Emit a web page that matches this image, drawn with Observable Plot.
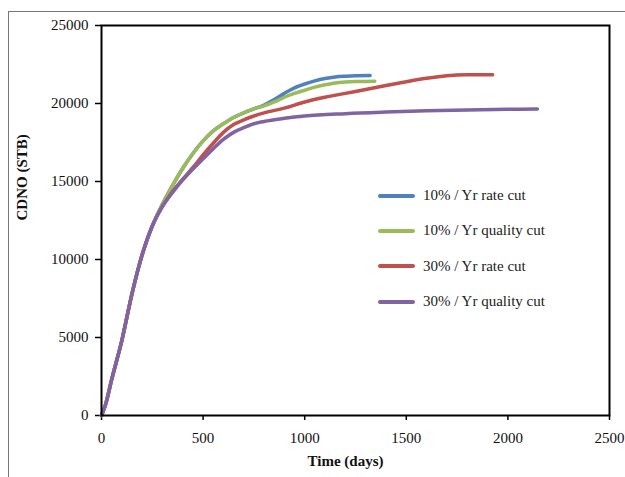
<!DOCTYPE html>
<html>
<head>
<meta charset="utf-8">
<script src="https://cdn.jsdelivr.net/npm/d3@7"></script>
<script src="https://cdn.jsdelivr.net/npm/@observablehq/plot@0.6"></script>
<style>
  body { margin:0; background:#fff; }
  #wrap { position:relative; width:625px; height:477px; overflow:hidden; font-family:"Liberation Serif", "Times New Roman", serif; }
  #border { position:absolute; left:8px; top:11px; width:700px; height:600px; border-left:1.5px solid #777; border-top:1.5px solid #777; }
  #chart { position:absolute; left:0; top:0; }
  #legend { position:absolute; left:378px; top:178px; font-size:15px; color:#222; }
  #legend .row { display:flex; align-items:center; height:35.3px; }
  #legend .sw { width:37px; height:4px; border-radius:2px; margin-right:8px; }
</style>
</head>
<body>
<div id="wrap"><div id="border"></div><div id="chart"></div><div id="legend"></div></div>
<script>
const seriesNames = ["10% / Yr rate cut", "10% / Yr quality cut", "30% / Yr rate cut", "30% / Yr quality cut"];
const seriesColors = ["#4F81BD", "#9BBB59", "#C0504D", "#8064A2"];
const xTicks = [0, 500, 1000, 1500, 2000, 2500];
const yTicks = [0, 5000, 10000, 15000, 20000, 25000];

const earlyT = [0, 20, 50, 100, 150, 200, 250];
const earlyV = [0, 700, 2300, 4800, 7800, 10300, 12150];

const blueT = [300, 350, 400, 450, 500, 550, 600, 650, 700, 750, 800, 850, 900, 950, 1000, 1050, 1100, 1150, 1200, 1250, 1322];
const blueV = [13550, 14750, 15850, 16800, 17600, 18250, 18700, 19100, 19400, 19650, 19900, 20250, 20650, 21000, 21250, 21450, 21600, 21700, 21750, 21780, 21790];
const greenT = [300, 350, 400, 450, 500, 550, 600, 650, 700, 750, 800, 850, 900, 950, 1000, 1050, 1100, 1150, 1200, 1250, 1345];
const greenV = [13550, 14750, 15850, 16800, 17600, 18250, 18700, 19100, 19400, 19650, 19850, 20100, 20400, 20650, 20850, 21050, 21200, 21320, 21380, 21410, 21420];
const redT = [300, 350, 400, 450, 500, 550, 600, 650, 700, 750, 800, 900, 1000, 1100, 1200, 1300, 1400, 1500, 1600, 1700, 1800, 1925];
const redV = [13400, 14350, 15150, 15900, 16700, 17450, 18150, 18650, 18950, 19200, 19400, 19700, 20100, 20400, 20650, 20900, 21150, 21400, 21620, 21780, 21840, 21850];
const purpleT = [300, 350, 400, 450, 500, 550, 600, 650, 700, 750, 800, 900, 1000, 1200, 1400, 1600, 1800, 2000, 2145];
const purpleV = [13400, 14300, 15100, 15800, 16450, 17100, 17700, 18150, 18450, 18700, 18850, 19050, 19200, 19350, 19450, 19530, 19590, 19630, 19640];

const tails = [[blueT, blueV], [greenT, greenV], [redT, redV], [purpleT, purpleV]];
const rows = [];
tails.forEach(([T, V], i) => {
  earlyT.forEach((t, j) => rows.push({series: seriesNames[i], t, v: earlyV[j]}));
  T.forEach((t, j) => rows.push({series: seriesNames[i], t, v: V[j]}));
});

const chart = Plot.plot({
  width: 625,
  height: 477,
  marginLeft: 101,
  marginRight: 16,
  marginTop: 25,
  marginBottom: 62,
  style: {fontFamily: '"Liberation Serif", "Times New Roman", serif', fontSize: "15px", color: "#111", background: "transparent"},
  x: {domain: [0, 2500]},
  y: {domain: [0, 25000]},
  color: {domain: seriesNames, range: seriesColors},
  marks: [
    Plot.axisX({ticks: xTicks, tickFormat: "d", tickSize: 5, tickPadding: 12, label: null, stroke: "#000", strokeWidth: 1.5}),
    Plot.axisY({ticks: yTicks, tickFormat: "d", tickSize: 6, tickPadding: 7, label: null, stroke: "#000", strokeWidth: 1.5}),
    Plot.line(rows, {x: "t", y: "v", z: "series", stroke: "series", strokeWidth: 3.5, curve: "monotone-x"}),
    Plot.frame({stroke: "#000", strokeWidth: 2}),
    Plot.text(["Time (days)"], {frameAnchor: "bottom", dy: 50, dx: -10, fontWeight: "bold", fontSize: 15}),
    Plot.text(["CDNO (STB)"], {frameAnchor: "left", dx: -79, rotate: -90, fontWeight: "bold", fontSize: 15})
  ]
});
document.getElementById("chart").appendChild(chart);

const legend = document.getElementById("legend");
seriesNames.forEach((name, i) => {
  const row = document.createElement("div");
  row.className = "row";
  const sw = document.createElement("div");
  sw.className = "sw";
  sw.style.background = seriesColors[i];
  const label = document.createElement("span");
  label.textContent = name;
  row.appendChild(sw);
  row.appendChild(label);
  legend.appendChild(row);
});
</script>
</body>
</html>
